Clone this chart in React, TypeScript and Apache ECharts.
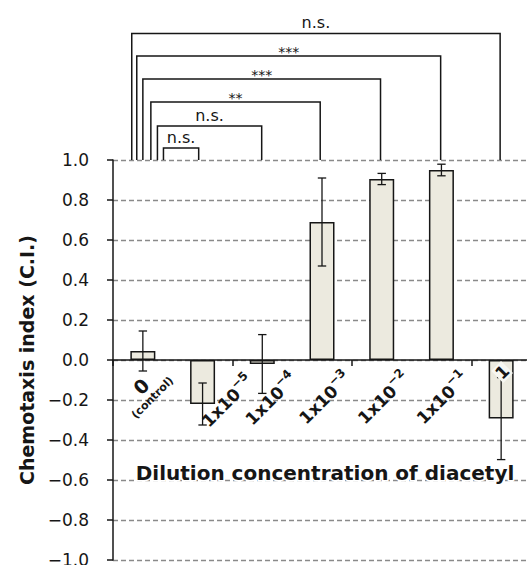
import React, { useEffect, useRef } from "react";
import * as echarts from "echarts";

const FONT = "DejaVu Sans";
const INK = "#161616";

// ---- data ----
const categories = [
  "{big|0}\n{small|(control)}",
  "1x10{sup|−5}",
  "1x10{sup|−4}",
  "1x10{sup|−3}",
  "1x10{sup|−2}",
  "1x10{sup|−1}",
  "1",
];
const means = [0.045, -0.22, -0.02, 0.69, 0.905, 0.95, -0.293];
const errors = [0.1, 0.105, 0.147, 0.22, 0.028, 0.029, 0.205];
const yMin = -1;
const yMax = 1;
const yStep = 0.2;

const comparisonFrom = [0, 0, 0, 0, 0, 0];
const comparisonTo = [6, 5, 4, 3, 2, 1];
const comparisonHeight = [1.633, 1.52, 1.405, 1.29, 1.17, 1.06];
const comparisonLabels = ["n.s.", "***", "***", "**", "n.s.", "n.s."];

// ---- layout (not data) ----
const fromLegShift = [-0.186, -0.102, 0, 0.134, 0.244, 0.345];
const toLegShift = [-0.017, -0.013, -0.02, -0.03, -0.01, -0.065];
const labelShift = [
  [3, 31],
  [25, 41],
  [9, 39],
  [3, 38],
  [2, 38],
  [1, 38],
  [1, 12],
];

export default function App() {
  const ref = useRef<HTMLDivElement>(null);

  useEffect(() => {
    const chart = echarts.init(ref.current!, null, { renderer: "svg" });
    const lineStyle = { color: INK, width: 1.5 };

    const option = {
      animation: false,
      backgroundColor: "#ffffff",
      grid: {
        left: 113,
        top: 160,
        width: 418,
        height: 400,
        containLabel: false,
        outerBoundsMode: "none",
      },
      xAxis: {
        type: "category",
        data: categories,
        z: 5,
        axisLine: { onZero: true, lineStyle },
        axisTick: { show: true, length: 6, lineStyle },
        axisLabel: { show: false },
        splitLine: { show: false },
        name: "Dilution concentration of diacetyl",
        nameLocation: "middle",
        nameGap: -97,
        nameMoveOverlap: false,
        nameTextStyle: {
          fontFamily: FONT,
          fontWeight: "bold",
          fontSize: 20,
          color: INK,
          textBorderColor: "#ffffff",
          textBorderWidth: 3,
          padding: [0, 0, 0, 6],
        },
      },
      yAxis: {
        type: "value",
        min: yMin,
        max: yMax,
        interval: yStep,
        axisLine: { show: true, lineStyle },
        axisTick: { show: true, length: 6, lineStyle },
        axisLabel: {
          margin: 24,
          fontFamily: FONT,
          fontSize: 17,
          color: INK,
          formatter: (v: number) =>
            (v < -1e-9 ? "−" : "") + Math.abs(v).toFixed(1),
        },
        splitLine: {
          show: true,
          lineStyle: { type: [5, 3], color: "#8a8a8a", width: 1.3 },
        },
        name: "Chemotaxis index (C.I.)",
        nameLocation: "middle",
        nameRotate: 90,
        nameGap: 76,
        nameTextStyle: {
          fontFamily: FONT,
          fontWeight: "bold",
          fontSize: 19,
          color: INK,
        },
      },
      series: [
        {
          type: "bar",
          data: means,
          barWidth: 25,
          z: 2,
          itemStyle: { color: "#ECEADF", borderColor: INK, borderWidth: 1.5 },
          silent: true,
        },
        {
          type: "custom",
          z: 4,
          silent: true,
          clip: false,
          data: means.map((m, i) => [i, m, errors[i]]),
          encode: { x: 0, y: 1 },
          renderItem: (params: any, api: any) => {
            const i = api.value(0);
            const m = api.value(1);
            const e = api.value(2);
            const top = api.coord([i, m + e]);
            const bot = api.coord([i, m - e]);
            const x = top[0];
            const cap = 4.2;
            const st = { stroke: INK, lineWidth: 1.3 };
            return {
              type: "group",
              children: [
                { type: "line", shape: { x1: x, y1: top[1], x2: x, y2: bot[1] }, style: st },
                { type: "line", shape: { x1: x - cap, y1: top[1], x2: x + cap, y2: top[1] }, style: st },
                { type: "line", shape: { x1: x - cap, y1: bot[1], x2: x + cap, y2: bot[1] }, style: st },
              ],
            };
          },
        },
        {
          type: "custom",
          z: 6,
          silent: true,
          clip: false,
          data: categories.map((_, i) => [i, 0]),
          encode: { x: 0, y: 1 },
          renderItem: (params: any, api: any) => {
            const i = params.dataIndex;
            const p = api.coord([i, 0]);
            const [dx, dy] = labelShift[i];
            const last = i === categories.length - 1;
            return {
              type: "text",
              x: p[0] + dx,
              y: p[1] + dy,
              rotation: Math.PI / 4,
              style: {
                text: categories[i],
                align: "center",
                verticalAlign: "middle",
                fontFamily: FONT,
                fontWeight: "bold",
                fontSize: 17,
                lineHeight: last ? 17 : 25,
                fill: INK,
                backgroundColor: last ? "#f7f7f2" : undefined,
                padding: last ? [0, 1] : 0,
                rich: {
                  sup: {
                    fontFamily: FONT,
                    fontWeight: "bold",
                    fontSize: 12,
                    lineHeight: 12,
                    verticalAlign: "top",
                    fill: INK,
                  },
                  big: {
                    fontFamily: FONT,
                    fontWeight: "bold",
                    fontSize: 19,
                    lineHeight: 19,
                    fill: INK,
                  },
                  small: {
                    fontFamily: FONT,
                    fontWeight: "bold",
                    fontSize: 11,
                    lineHeight: 13,
                    fill: INK,
                  },
                },
              },
            };
          },
        },
        {
          type: "custom",
          z: 5,
          silent: true,
          clip: false,
          data: comparisonHeight.map((h, i) => [comparisonFrom[i], h]),
          encode: { x: 0, y: 1 },
          renderItem: (params: any, api: any) => {
            const i = params.dataIndex;
            const band = api.size([1, 0])[0];
            const xl = api.coord([comparisonFrom[i], 0])[0] + fromLegShift[i] * band;
            const xr = api.coord([comparisonTo[i], 0])[0] + toLegShift[i] * band;
            const yt = api.coord([0, comparisonHeight[i]])[1];
            const yb = api.coord([0, yMax])[1];
            const star = comparisonLabels[i].indexOf("*") >= 0;
            return {
              type: "group",
              children: [
                {
                  type: "polyline",
                  shape: { points: [[xl, yb], [xl, yt], [xr, yt], [xr, yb]] },
                  style: { stroke: INK, lineWidth: 1.5, fill: "none" },
                },
                {
                  type: "text",
                  x: (xl + xr) / 2,
                  y: yt - (star ? 4 : 11),
                  style: {
                    text: comparisonLabels[i],
                    align: "center",
                    verticalAlign: "middle",
                    fontFamily: FONT,
                    fontSize: star ? 14 : 16,
                    fill: INK,
                  },
                },
              ],
            };
          },
        },
      ],
    };

    chart.setOption(option as any);
    return () => chart.dispose();
  }, []);

  return (
    <div
      ref={ref}
      style={{
        position: "fixed",
        left: 0,
        top: 0,
        width: 527,
        height: 565,
        background: "#fff",
      }}
    />
  );
}
